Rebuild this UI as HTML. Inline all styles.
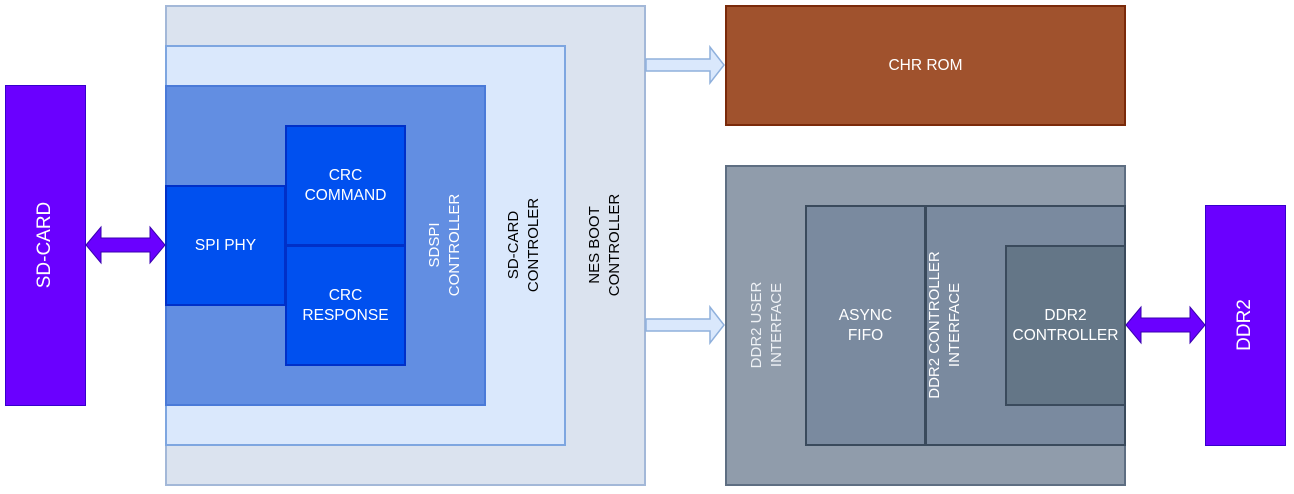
<!DOCTYPE html>
<html><head><style>
body{margin:0;width:1294px;height:494px;background:#fff;position:relative;overflow:hidden;font-family:"Liberation Sans",Arial,sans-serif;}
.b{position:absolute;box-sizing:border-box;display:flex;align-items:center;justify-content:center;text-align:center;font-size:15.5px;line-height:20px;}
.v{position:absolute;font-size:15px;line-height:20px;text-align:center;white-space:nowrap;transform:translate(-50%,-50%) rotate(-90deg);}
</style></head><body>
<div class="b" style="left:5px;top:85px;width:81px;height:321px;background:#6a00ff;border:1px solid #3700cc;"></div>
<div class="v" style="left:45px;top:245px;color:#fff;font-size:19px;">SD-CARD</div>

<div class="b" style="left:165px;top:5px;width:481px;height:481px;background:#dbe3ef;border:2px solid #a3b8d8;"></div>
<div class="b" style="left:165px;top:45px;width:401px;height:401px;background:#dae8fc;border:2px solid #7ea6e0;"></div>
<div class="b" style="left:165px;top:85px;width:321px;height:321px;background:#628ee2;border:2px solid #4a7ad8;"></div>
<div class="b" style="left:165px;top:185px;width:121px;height:121px;background:#0050ef;border:2px solid #0030c8;color:#fff;">SPI PHY</div>
<div class="b" style="left:285px;top:125px;width:121px;height:121px;background:#0050ef;border:2px solid #0030c8;color:#fff;">CRC<br>COMMAND</div>
<div class="b" style="left:285px;top:245px;width:121px;height:121px;background:#0050ef;border:2px solid #0030c8;color:#fff;">CRC<br>RESPONSE</div>
<div class="v" style="left:445px;top:245px;color:#fff;">SDSPI<br>CONTROLLER</div>
<div class="v" style="left:524px;top:245px;color:#000;">SD-CARD<br>CONTROLER</div>
<div class="v" style="left:605px;top:245px;color:#000;">NES BOOT<br>CONTROLLER</div>

<div class="b" style="left:725px;top:5px;width:401px;height:121px;background:#a0522d;border:2px solid #7a2a0a;color:#fff;">CHR ROM</div>

<div class="b" style="left:725px;top:165px;width:401px;height:321px;background:#909cab;border:2px solid #5e6e82;"></div>
<div class="b" style="left:805px;top:205px;width:121px;height:241px;background:#7a8a9f;border:2px solid #3a4a5c;color:#fff;">ASYNC<br>FIFO</div>
<div class="b" style="left:925px;top:205px;width:201px;height:241px;background:#7a8a9f;border:2px solid #3a4a5c;"></div>
<div class="b" style="left:1005px;top:245px;width:121px;height:161px;background:#647687;border:2px solid #3a4a5c;color:#fff;">DDR2<br>CONTROLLER</div>
<div class="v" style="left:767px;top:325px;color:#eef1f5;">DDR2 USER<br>INTERFACE</div>
<div class="v" style="left:945px;top:325px;color:#fff;">DDR2 CONTROLLER<br>INTERFACE</div>

<div class="b" style="left:1205px;top:205px;width:81px;height:241px;background:#6a00ff;border:1px solid #3700cc;"></div>
<div class="v" style="left:1245px;top:325px;color:#fff;font-size:19px;">DDR2</div>

<svg width="1294" height="494" style="position:absolute;left:0;top:0">
<polygon points="86,245 101,227 101,238 150,238 150,227 165,245 150,263 150,252 101,252 101,263" fill="#6a00ff" stroke="#3a00b0" stroke-width="1"/>
<polygon points="1126,325 1141,307 1141,318 1190,318 1190,307 1205,325 1190,343 1190,332 1141,332 1141,343" fill="#6a00ff" stroke="#3a00b0" stroke-width="1"/>
<polygon points="646,59 710,59 710,47 724,65 710,83 710,71 646,71" fill="#dae8fc" stroke="#8fb0dc" stroke-width="1.5"/>
<polygon points="646,319 710,319 710,307 724,325 710,343 710,331 646,331" fill="#dae8fc" stroke="#8fb0dc" stroke-width="1.5"/>
</svg>
</body></html>
